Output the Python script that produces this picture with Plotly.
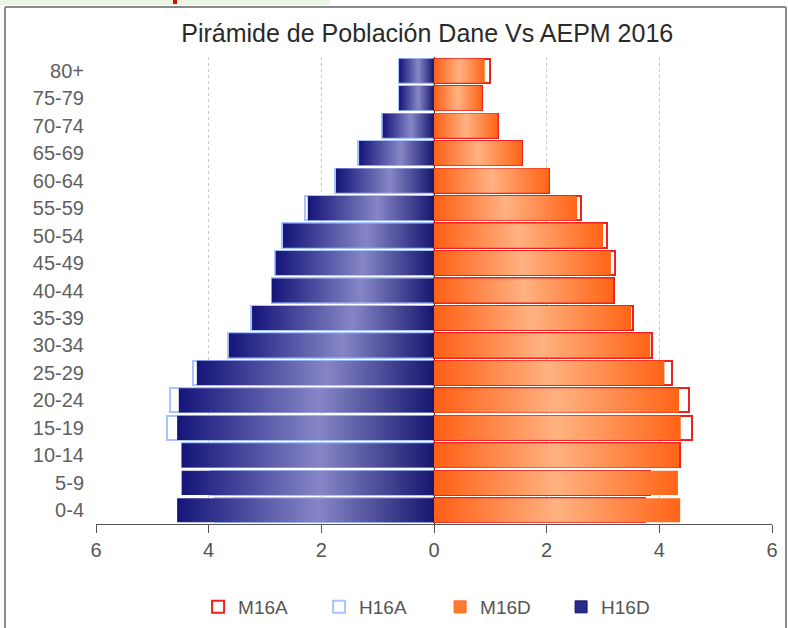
import plotly.graph_objects as go

ages = ['0-4', '5-9', '10-14', '15-19', '20-24', '25-29', '30-34', '35-39', '40-44',
        '45-49', '50-54', '55-59', '60-64', '65-69', '70-74', '75-79', '80+']

h16d = [4.56, 4.48, 4.48, 4.56, 4.53, 4.21, 3.64, 3.23, 2.88, 2.81, 2.68, 2.24, 1.74, 1.33, 0.91, 0.62, 0.62]
h16a = [3.89, 3.96, 4.48, 4.74, 4.69, 4.28, 3.66, 3.25, 2.88, 2.82, 2.70, 2.29, 1.76, 1.35, 0.92, 0.62, 0.62]
m16d = [4.37, 4.33, 4.35, 4.38, 4.35, 4.09, 3.84, 3.50, 3.18, 3.14, 3.00, 2.54, 2.04, 1.56, 1.13, 0.85, 0.90]
m16a = [3.75, 3.84, 4.36, 4.58, 4.53, 4.23, 3.87, 3.54, 3.19, 3.21, 3.07, 2.61, 2.05, 1.57, 1.14, 0.86, 0.99]

x_ticks = [-6, -4, -2, 0, 2, 4, 6]

W, H = 788, 628
ML, MR, MT, MB = 96, 16, 57, 104
BAR_H = 0.88

blue_scale = [[0, '#15157a'], [0.55, '#8686c6'], [1, '#16166f']]
orange_scale = [[0, '#ff5f14'], [0.5, '#ffb282'], [1, '#ff6416']]

fig = go.Figure()
ypos = list(range(len(ages)))


def gradient_bar(val, y, scale):
    # one polygon per bar so each gets its own horizontal gradient
    return go.Scatter(
        x=[0, val, val, 0, 0],
        y=[y - BAR_H / 2, y - BAR_H / 2, y + BAR_H / 2, y + BAR_H / 2, y - BAR_H / 2],
        mode='none', fill='toself',
        fillgradient=dict(type='horizontal', colorscale=scale),
        showlegend=False, hoverinfo='skip',
    )


for i, v in enumerate(h16d):
    fig.add_trace(gradient_bar(-v, ypos[i], blue_scale))
for i, v in enumerate(m16d):
    fig.add_trace(gradient_bar(v, ypos[i], orange_scale))

fig.add_trace(go.Bar(
    x=[-v for v in h16a], y=ypos, orientation='h', width=BAR_H, name='H16A',
    marker=dict(color='rgba(255,255,255,0)', line=dict(color='#a9c3ff', width=2)),
    legendrank=2,
))
fig.add_trace(go.Bar(
    x=m16a, y=ypos, orientation='h', width=BAR_H, name='M16A',
    marker=dict(color='rgba(255,255,255,0)', line=dict(color='#ee2020', width=2)),
    legendrank=1,
))

# legend-only entries for the gradient series
fig.add_trace(go.Bar(x=[None], y=[None], orientation='h', name='M16D', legendrank=3,
                     marker=dict(color='#ff7a33', line=dict(color='#ff6416', width=1))))
fig.add_trace(go.Bar(x=[None], y=[None], orientation='h', name='H16D', legendrank=4,
                     marker=dict(color='#2a2a8c', line=dict(color='#16166f', width=1))))


def px_x(p):
    return (p - ML) / (W - ML - MR)


def px_y(p):
    return (H - MB - p) / (H - MT - MB)


shapes = [
    # light green strip at the top edge of the picture
    dict(type='rect', xref='paper', yref='paper', x0=px_x(0), x1=px_x(330), y0=px_y(5), y1=px_y(0),
         fillcolor='#eaf5e2', line=dict(width=0), layer='below'),
    dict(type='rect', xref='paper', yref='paper', x0=px_x(173), x1=px_x(177), y0=px_y(4), y1=px_y(0),
         fillcolor='#d01010', line=dict(width=0)),
    # chart frame
    dict(type='line', xref='paper', yref='paper', x0=px_x(5), x1=px_x(786), y0=px_y(7), y1=px_y(7),
         line=dict(color='#8a8a8a', width=2)),
    dict(type='line', xref='paper', yref='paper', x0=px_x(5), x1=px_x(5), y0=px_y(7), y1=px_y(628),
         line=dict(color='#8a8a8a', width=2)),
    dict(type='line', xref='paper', yref='paper', x0=px_x(786), x1=px_x(786), y0=px_y(7), y1=px_y(628),
         line=dict(color='#8a8a8a', width=2)),
]

fig.update_layout(
    width=W, height=H,
    margin=dict(l=ML, r=MR, t=MT, b=MB, autoexpand=False),
    paper_bgcolor='white', plot_bgcolor='white',
    barmode='overlay', bargap=0,
    font=dict(family='Liberation Sans, Arial, sans-serif', color='#555555', size=17),
    title=dict(text='Pirámide de Población Dane Vs AEPM 2016', xref='paper', x=0.49, xanchor='center',
               y=1 - 33 / H, yanchor='middle',
               font=dict(size=25, color='#2a2a2a')),
    xaxis=dict(
        range=[-6, 6], tickvals=x_ticks, ticktext=[str(abs(t)) for t in x_ticks],
        showgrid=True, gridcolor='#c8c8c8', griddash='dot', gridwidth=1,
        zeroline=True, zerolinecolor='#222244', zerolinewidth=1,
        showline=True, linecolor='#555555', linewidth=1,
        ticks='outside', ticklen=8, tickcolor='#555555',
        tickfont=dict(size=20, color='#555555'), automargin=False,
    ),
    yaxis=dict(
        range=[-0.5, 16.5], tickvals=ypos, ticktext=ages,
        showgrid=False, zeroline=False, showline=False, ticks='',
        tickfont=dict(size=20, color='#606060'), ticklabelstandoff=11, automargin=False,
    ),
    legend=dict(
        orientation='h', x=0.509, xanchor='center', y=px_y(607), yanchor='middle',
        entrywidth=76, entrywidthmode='pixels', itemwidth=30,
        font=dict(size=19, color='#555555'), traceorder='normal',
    ),
    shapes=shapes,
)

fig.write_html("out.html", config={'displayModeBar': False},
               post_script="document.body.style.margin='0px';")
